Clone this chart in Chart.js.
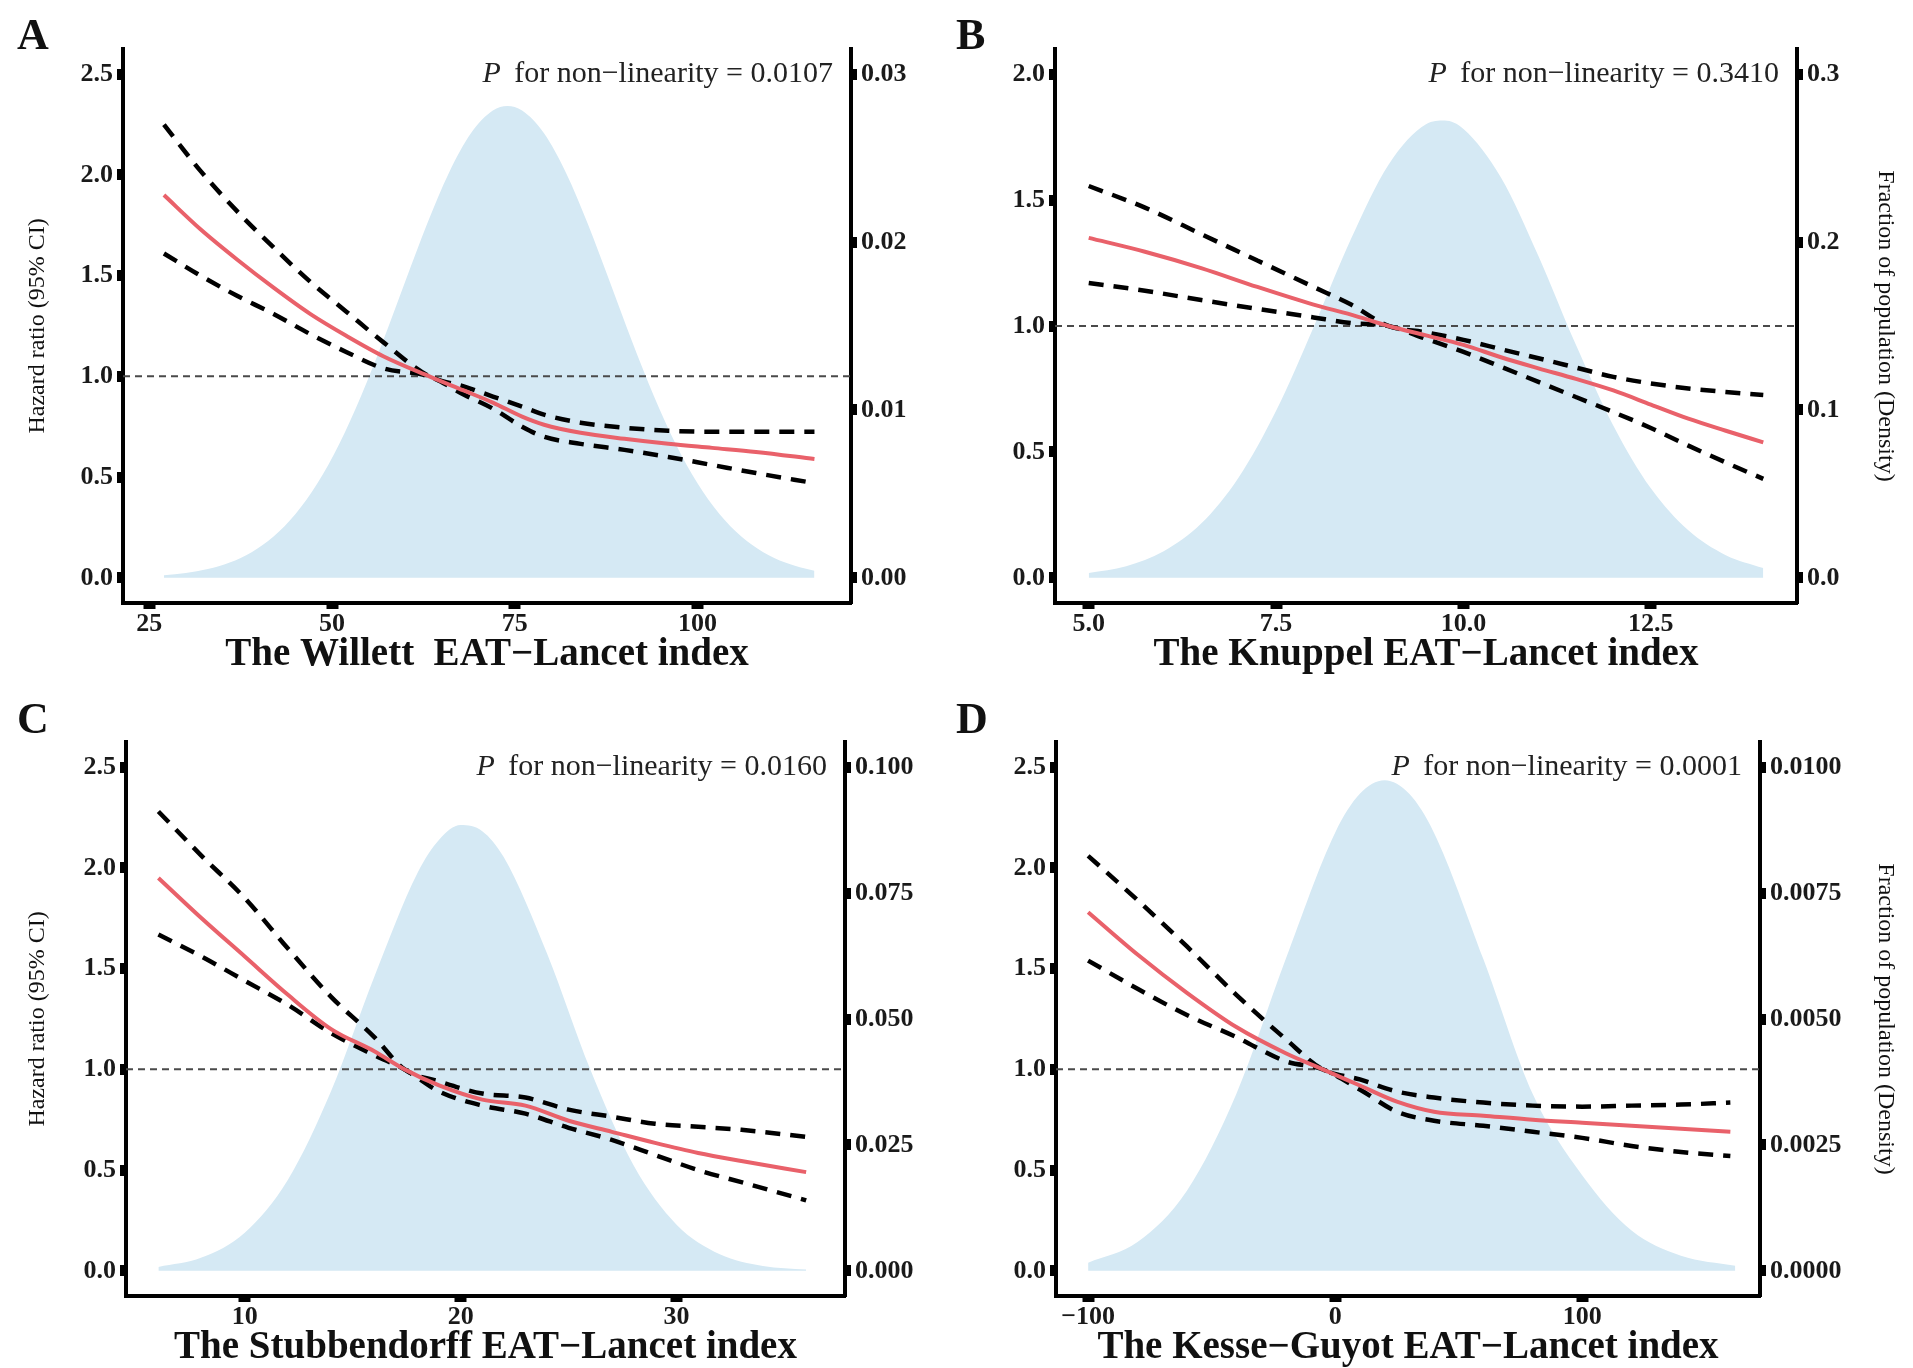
<!DOCTYPE html>
<html>
<head>
<meta charset="utf-8">
<script src="https://cdn.jsdelivr.net/npm/chart.js@4.4.1/dist/chart.umd.min.js"></script>
<style>
  html, body { margin: 0; padding: 0; background: #fff; }
  body { width: 1913px; height: 1368px; position: relative; overflow: hidden; }
  canvas { position: absolute; }
</style>
</head>
<body>
<canvas id="chartA" width="956" height="684" style="left:0px;top:0px;width:956px;height:684px"></canvas>
<canvas id="chartB" width="957" height="684" style="left:956px;top:0px;width:957px;height:684px"></canvas>
<canvas id="chartC" width="956" height="684" style="left:0px;top:684px;width:956px;height:684px"></canvas>
<canvas id="chartD" width="957" height="684" style="left:956px;top:684px;width:957px;height:684px"></canvas>
<script>
// ---- data ----
// A: Willett
var aX     = [27, 32, 37, 42, 47, 52, 57, 63.3, 68, 72, 76, 79, 84, 90, 96, 102, 108, 116];
var aHR    = [1.90, 1.73, 1.58, 1.44, 1.31, 1.20, 1.10, 1.00, 0.93, 0.87, 0.80, 0.76, 0.72, 0.69, 0.665, 0.645, 0.625, 0.59];
var aUpper = [2.25, 2.02, 1.82, 1.64, 1.47, 1.32, 1.17, 1.00, 0.95, 0.90, 0.85, 0.81, 0.77, 0.745, 0.73, 0.725, 0.725, 0.725];
var aLower = [1.61, 1.50, 1.40, 1.31, 1.21, 1.12, 1.04, 1.00, 0.91, 0.84, 0.75, 0.70, 0.665, 0.635, 0.60, 0.56, 0.52, 0.47];
var aDensX = [27, 30, 33, 36, 39, 42, 45, 48, 51, 54, 57, 60, 63, 66, 69, 72, 74, 76, 79, 82, 85, 88, 91, 94, 97, 100, 103, 106, 109, 112, 114, 116];
var aDens  = [0.00015, 0.00028, 0.00052, 0.00091, 0.00153, 0.00246, 0.0038, 0.00563, 0.00799, 0.01086, 0.01413, 0.01763, 0.02107, 0.02413, 0.02648, 0.02783,
              0.0281, 0.02783, 0.02648, 0.02413, 0.02107, 0.01763, 0.01413, 0.01086, 0.00799, 0.00563, 0.0038, 0.00246, 0.00153, 0.00091, 0.00063, 0.00042];
var aXTicks = [25, 50, 75, 100];
var aXLabels = ['25', '50', '75', '100'];
var aDensTicks = [0, 0.01, 0.02, 0.03];
var aDensLabels = ['0.00', '0.01', '0.02', '0.03'];

// B: Knuppel
var bX     = [5.0, 5.75, 6.5, 7.25, 8.0, 8.5, 9.0, 9.5, 10.0, 10.5, 11.0, 11.5, 12.0, 12.5, 13.0, 13.5, 14.0];
var bHR    = [1.35, 1.295, 1.23, 1.155, 1.085, 1.045, 1.00, 0.963, 0.925, 0.876, 0.832, 0.79, 0.744, 0.688, 0.632, 0.584, 0.538];
var bUpper = [1.556, 1.47, 1.365, 1.26, 1.155, 1.085, 1.00, 0.975, 0.945, 0.908, 0.872, 0.835, 0.798, 0.772, 0.752, 0.738, 0.726];
var bLower = [1.171, 1.14, 1.103, 1.068, 1.034, 1.012, 1.00, 0.949, 0.897, 0.838, 0.778, 0.718, 0.658, 0.595, 0.525, 0.458, 0.393];
var bDensX = [5.0, 5.5, 6.0, 6.5, 7.0, 7.5, 8.0, 8.5, 9.0, 9.5, 9.75, 10.0, 10.5, 11.0, 11.5, 12.0, 12.5, 13.0, 13.5, 14.0];
var bDens  = [0.0028, 0.0069, 0.0158, 0.0323, 0.0598, 0.0995, 0.1493, 0.2019, 0.2461, 0.2702, 0.2724, 0.2674, 0.2385, 0.1917, 0.1388, 0.0906, 0.0533, 0.0283, 0.0135, 0.0058];
var bXTicks = [5, 7.5, 10, 12.5];
var bXLabels = ['5.0', '7.5', '10.0', '12.5'];
var bDensTicks = [0, 0.1, 0.2, 0.3];
var bDensLabels = ['0.0', '0.1', '0.2', '0.3'];

// C: Stubbendorff
var cX     = [6, 8, 10, 12, 14, 16, 17.4, 19, 21, 23, 25, 27, 29, 31, 33, 36];
var cHR    = [1.95, 1.75, 1.56, 1.37, 1.20, 1.09, 1.00, 0.92, 0.85, 0.82, 0.745, 0.69, 0.635, 0.585, 0.545, 0.49];
var cUpper = [2.28, 2.06, 1.85, 1.60, 1.36, 1.16, 1.00, 0.94, 0.88, 0.86, 0.80, 0.765, 0.73, 0.715, 0.70, 0.665];
var cLower = [1.67, 1.56, 1.44, 1.32, 1.18, 1.07, 1.00, 0.89, 0.82, 0.78, 0.71, 0.65, 0.575, 0.50, 0.44, 0.35];
var cDensX = [6, 8, 10, 12, 14, 16, 18, 19, 20, 21, 22, 24, 26, 28, 30, 32, 34, 36];
var cDens  = [0.00076, 0.00263, 0.00758, 0.0181, 0.0357, 0.0584, 0.0790, 0.0856, 0.0885, 0.0873, 0.0821, 0.0630, 0.0400, 0.0210, 0.00916, 0.0033, 0.00098, 0.00024];
var cXTicks = [10, 20, 30];
var cXLabels = ['10', '20', '30'];
var cDensTicks = [0, 0.025, 0.05, 0.075, 0.1];
var cDensLabels = ['0.000', '0.025', '0.050', '0.075', '0.100'];

// D: Kesse-Guyot
var dX     = [-100, -80, -60, -40, -20, -5, 10, 25, 40, 60, 80, 100, 120, 140, 160];
var dHR    = [1.78, 1.57, 1.38, 1.21, 1.08, 1.00, 0.92, 0.84, 0.79, 0.77, 0.75, 0.735, 0.72, 0.705, 0.69];
var dUpper = [2.06, 1.84, 1.61, 1.37, 1.15, 1.00, 0.95, 0.89, 0.86, 0.835, 0.82, 0.815, 0.82, 0.825, 0.835];
var dLower = [1.54, 1.40, 1.27, 1.16, 1.04, 1.00, 0.90, 0.79, 0.745, 0.72, 0.69, 0.66, 0.62, 0.59, 0.57];
var dDensX = [-100, -80, -60, -40, -20, 0, 10, 20, 30, 40, 60, 80, 100, 120, 140, 162];
var dDens  = [0.00016, 0.00057, 0.00159, 0.00351, 0.00619, 0.0087, 0.00947, 0.00974, 0.00947, 0.0087, 0.00619, 0.00351, 0.0019, 0.0008, 0.0003, 0.0001];
var dXTicks = [-100, 0, 100];
var dXLabels = ['\u2212100', '0', '100'];
var dDensTicks = [0, 0.0025, 0.005, 0.0075, 0.01];
var dDensLabels = ['0.0000', '0.0025', '0.0050', '0.0075', '0.0100'];

// hazard ratio axis
var hrTicks25 = [0, 0.5, 1, 1.5, 2, 2.5];
var hrLabels25 = ['0.0', '0.5', '1.0', '1.5', '2.0', '2.5'];
var hrTicks20 = [0, 0.5, 1, 1.5, 2];
var hrLabels20 = ['0.0', '0.5', '1.0', '1.5', '2.0'];
var refHR = 1;

var FONT = '"Liberation Serif", "Times New Roman", serif';
Chart.defaults.font.family = FONT;
Chart.defaults.color = '#1a1a1a';

var panels = [
  { id: 'chartA', letter: 'A', letterX: 17, pValue: '0.0107',
    x: aX, hr: aHR, upper: aUpper, lower: aLower, densX: aDensX, dens: aDens,
    xMin: 21.4, xMax: 121.0, xTicks: aXTicks, xLabels: aXLabels,
    yTicks: hrTicks25, yLabels: hrLabels25, y2Ticks: aDensTicks, y2Labels: aDensLabels,
    xTitle: 'The Willett  EAT\u2212Lancet index', leftTitle: true, rightTitle: false,
    box: { left: 123, right: 851, top: 49, bottom: 603, w: 956, h: 684, titlePad: 9.5 } },
  { id: 'chartB', letter: 'B', letterX: 0, pValue: '0.3410',
    x: bX, hr: bHR, upper: bUpper, lower: bLower, densX: bDensX, dens: bDens,
    xMin: 4.55, xMax: 14.45, xTicks: bXTicks, xLabels: bXLabels,
    yTicks: hrTicks20, yLabels: hrLabels20, y2Ticks: bDensTicks, y2Labels: bDensLabels,
    xTitle: 'The Knuppel EAT\u2212Lancet index', leftTitle: false, rightTitle: true,
    box: { left: 99, right: 841, top: 49, bottom: 603, w: 957, h: 684, titlePad: 9.5 } },
  { id: 'chartC', letter: 'C', letterX: 17, pValue: '0.0160',
    x: cX, hr: cHR, upper: cUpper, lower: cLower, densX: cDensX, dens: cDens,
    xMin: 4.5, xMax: 37.8, xTicks: cXTicks, xLabels: cXLabels,
    yTicks: hrTicks25, yLabels: hrLabels25, y2Ticks: cDensTicks, y2Labels: cDensLabels,
    xTitle: 'The Stubbendorff EAT\u2212Lancet index', leftTitle: true, rightTitle: false,
    box: { left: 126, right: 845, top: 58, bottom: 612, w: 956, h: 684, titlePad: 0.5 } },
  { id: 'chartD', letter: 'D', letterX: 0, pValue: '0.0001',
    x: dX, hr: dHR, upper: dUpper, lower: dLower, densX: dDensX, dens: dDens,
    xMin: -113, xMax: 172, xTicks: dXTicks, xLabels: dXLabels,
    yTicks: hrTicks25, yLabels: hrLabels25, y2Ticks: dDensTicks, y2Labels: dDensLabels,
    xTitle: 'The Kesse\u2212Guyot EAT\u2212Lancet index', leftTitle: false, rightTitle: true,
    box: { left: 100, right: 804, top: 58, bottom: 612, w: 957, h: 684, titlePad: 0.5 } }
];

function pts(xs, ys) {
  return xs.map(function (x, i) { return { x: x, y: ys[i] }; });
}

// panel letter + P annotation
var panelText = {
  id: 'panelText',
  afterDraw: function (chart, args, opts) {
    var ctx = chart.ctx;
    ctx.save();
    ctx.fillStyle = '#111';
    ctx.textBaseline = 'alphabetic';
    ctx.textAlign = 'left';
    ctx.font = 'bold 44px ' + FONT;
    ctx.fillText(opts.letter, opts.letterX, 49);

    var ty = chart.scales.y.getPixelForValue(opts.topTick);
    ctx.textBaseline = 'middle';
    ctx.font = 'italic 30px ' + FONT;
    var wP = ctx.measureText('P').width;
    ctx.font = '30px ' + FONT;
    var rest = ' \u2009for non\u2212linearity = ' + opts.pValue;
    var wR = ctx.measureText(rest).width;
    var x0 = chart.chartArea.right - 18 - wP - wR;
    ctx.fillStyle = '#222';
    ctx.font = 'italic 30px ' + FONT;
    ctx.fillText('P', x0, ty);
    ctx.font = '30px ' + FONT;
    ctx.fillText(rest, x0 + wP, ty);
    ctx.restore();
  }
};

function renderPanel(p) {
  var b = p.box;
  var hrTop = p.yTicks[p.yTicks.length - 1];
  var dTop = p.y2Ticks[p.y2Ticks.length - 1];
  var tickFont = { size: 26, weight: 'bold', family: FONT };

  var data = {
    datasets: [
      { label: 'HR', data: pts(p.x, p.hr), yAxisID: 'y', borderColor: '#e9616a', borderWidth: 4, order: 1 },
      { label: 'Upper 95% CI', data: pts(p.x, p.upper), yAxisID: 'y', borderColor: '#000', borderWidth: 4.5, borderDash: [15, 10], order: 2 },
      { label: 'Lower 95% CI', data: pts(p.x, p.lower), yAxisID: 'y', borderColor: '#000', borderWidth: 4.5, borderDash: [15, 10], order: 2 },
      { label: 'Reference', data: [{ x: p.xMin, y: refHR }, { x: p.xMax, y: refHR }], yAxisID: 'y',
        borderColor: '#4a4a4a', borderWidth: 2, borderDash: [7, 5], cubicInterpolationMode: 'default', tension: 0, order: 3 },
      { label: 'Density', data: pts(p.densX, p.dens), yAxisID: 'y2', borderWidth: 0, borderColor: 'rgba(0,0,0,0)',
        backgroundColor: '#d5e9f4', fill: 'origin', order: 4 }
    ]
  };

  var config = {
    type: 'line',
    data: data,
    options: {
      responsive: false,
      animation: false,
      devicePixelRatio: 1,
      layout: { padding: { top: b.top, left: 0, right: 0, bottom: 0 } },
      elements: {
        point: { radius: 0, hoverRadius: 0 },
        line: { cubicInterpolationMode: 'monotone', fill: false, borderCapStyle: 'butt' }
      },
      plugins: {
        legend: { display: false },
        tooltip: { enabled: false },
        panelText: { letter: p.letter, letterX: p.letterX, pValue: p.pValue, topTick: hrTop }
      },
      scales: {
        x: {
          type: 'linear', position: 'bottom', min: p.xMin, max: p.xMax,
          afterBuildTicks: function (s) { s.ticks = p.xTicks.map(function (v) { return { value: v }; }); },
          afterFit: function (s) { s.height = b.h - b.bottom; },
          ticks: { font: tickFont, color: '#1a1a1a', padding: 0, autoSkip: false, maxRotation: 0, minRotation: 0,
                   callback: function (v, i) { return p.xLabels[i]; } },
          grid: { drawOnChartArea: false, drawTicks: true, tickLength: 6, tickWidth: 12, tickColor: '#000' },
          border: { display: true, color: '#000', width: 4 },
          title: { display: true, text: p.xTitle, color: '#111',
                   font: { size: 39, weight: 'bold', family: FONT, lineHeight: 1 },
                   padding: { top: 0, bottom: b.titlePad } }
        },
        y: {
          type: 'linear', position: 'left', bounds: 'data',
          min: -0.05 * hrTop, max: 1.05 * hrTop,
          afterBuildTicks: function (s) { s.ticks = p.yTicks.map(function (v) { return { value: v }; }); },
          afterFit: function (s) { s.width = b.left; },
          ticks: { font: tickFont, color: '#1a1a1a', padding: 4,
                   callback: function (v, i) { return p.yLabels[i]; } },
          grid: { drawOnChartArea: false, drawTicks: true, tickLength: 6, tickWidth: 11, tickColor: '#000' },
          border: { display: true, color: '#000', width: 4 },
          title: { display: p.leftTitle, text: 'Hazard ratio (95% CI)', color: '#111',
                   font: { size: 24, family: FONT }, padding: { top: 23.6, bottom: 0 } }
        },
        y2: {
          type: 'linear', position: 'right', bounds: 'data',
          min: -0.05 * dTop, max: 1.05 * dTop,
          afterBuildTicks: function (s) { s.ticks = p.y2Ticks.map(function (v) { return { value: v }; }); },
          afterFit: function (s) { s.width = b.w - b.right; },
          ticks: { font: tickFont, color: '#1a1a1a', padding: 4,
                   callback: function (v, i) { return p.y2Labels[i]; } },
          grid: { drawOnChartArea: false, drawTicks: true, tickLength: 6, tickWidth: 11, tickColor: '#000' },
          border: { display: true, color: '#000', width: 4 },
          title: { display: p.rightTitle, text: 'Fraction of population (Density)', color: '#111',
                   font: { size: 24, family: FONT }, padding: { top: 13.6, bottom: 0 } }
        }
      }
    },
    plugins: [panelText]
  };
  return new Chart(document.getElementById(p.id), config);
}

panels.forEach(renderPanel);
</script>
</body>
</html>
